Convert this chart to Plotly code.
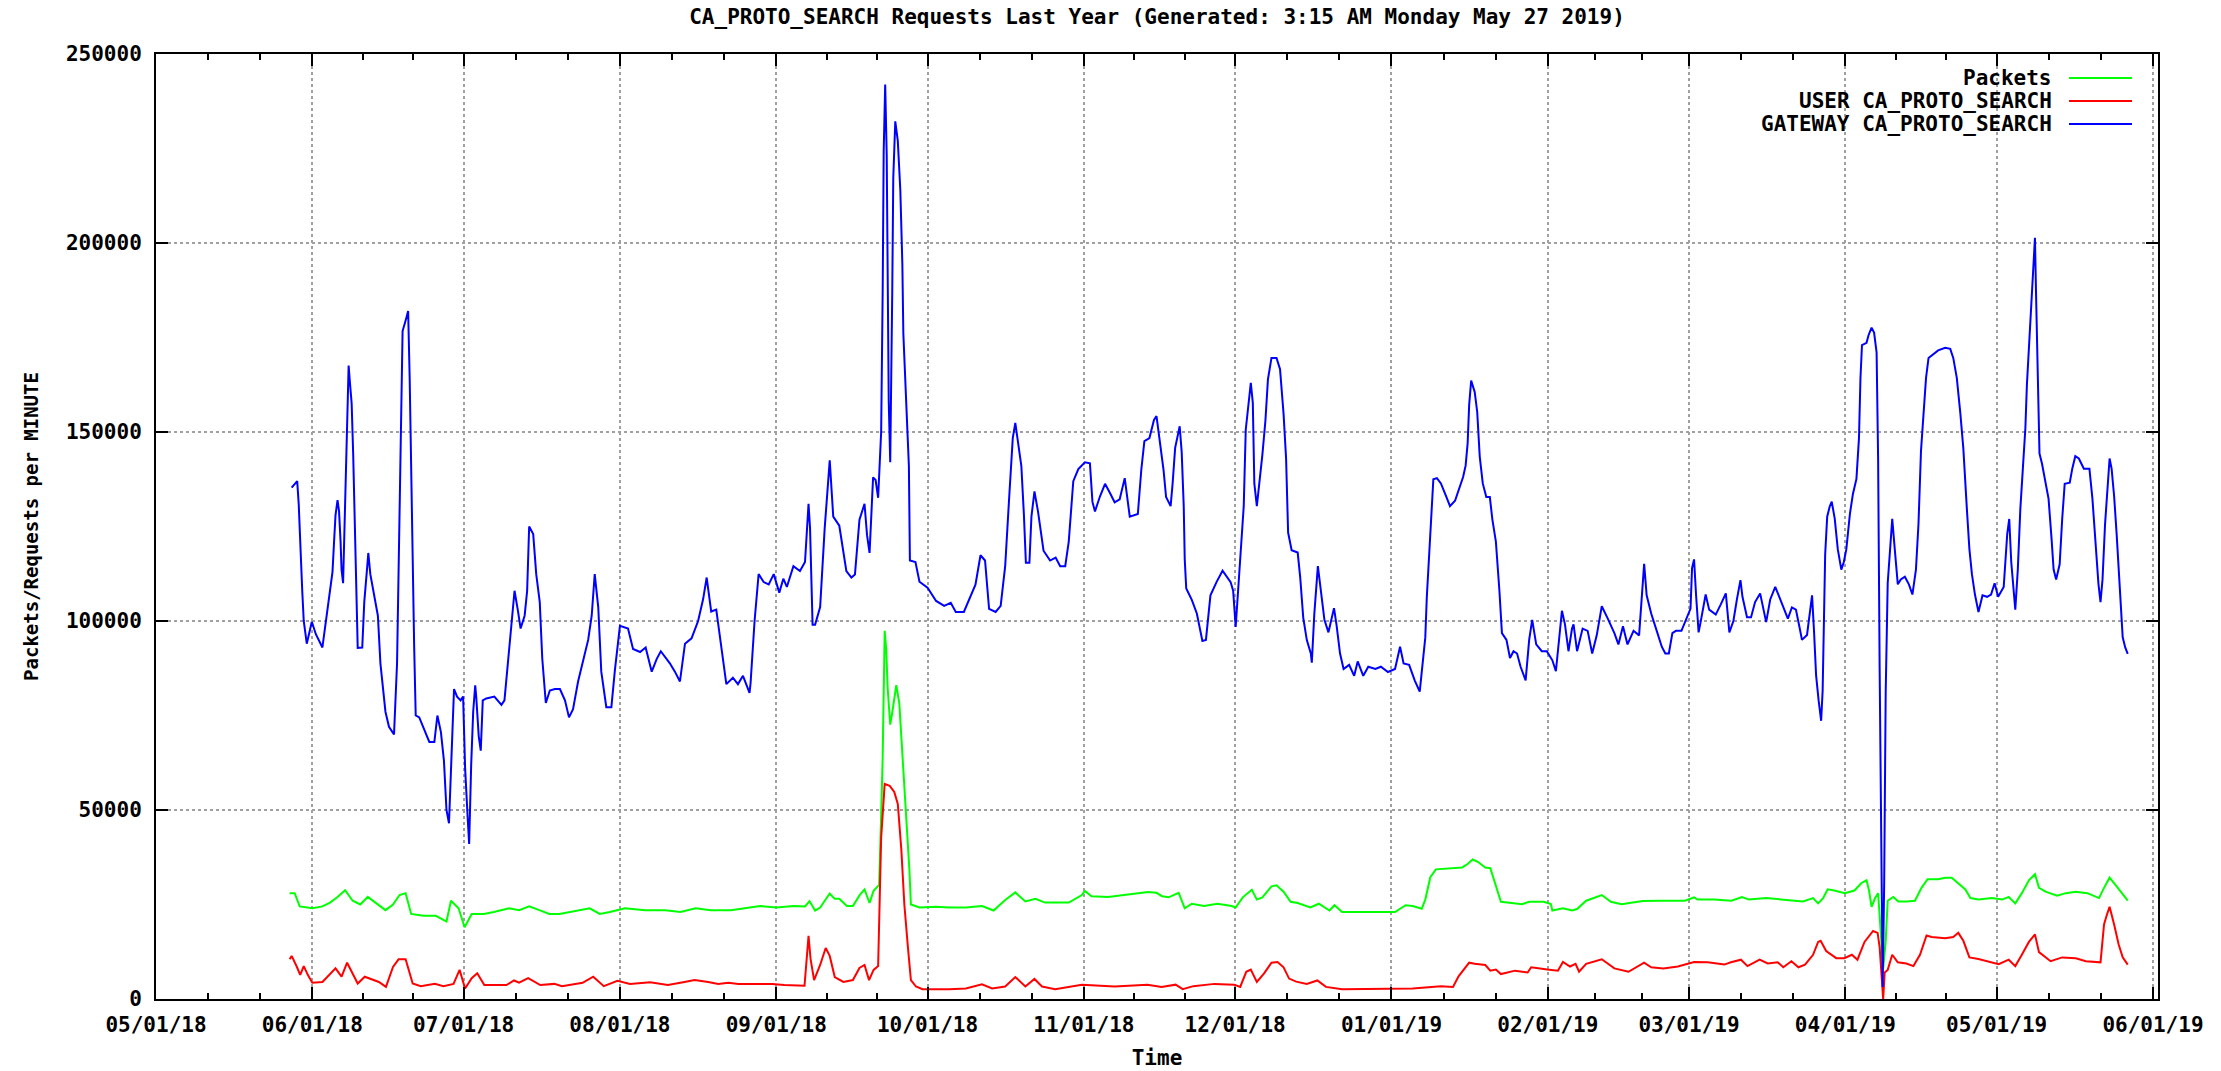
import pandas as pd
import plotly.graph_objects as go

START = pd.Timestamp("2018-05-01")

title_text = "CA_PROTO_SEARCH Requests Last Year (Generated: 3:15 AM Monday May 27 2019)"
series_names = ["Packets", "USER CA_PROTO_SEARCH", "GATEWAY CA_PROTO_SEARCH"]
series_colors = ["#00ff00", "#ff0000", "#0000ff"]
y_ticks = [0, 50000, 100000, 150000, 200000, 250000]

# ---- GATEWAY CA_PROTO_SEARCH (days since 2018-05-01, value) ----
gateway_day = [
    26.9, 28.0, 28.3, 28.6, 29.0, 29.3, 29.7, 29.9, 30.9, 31.7, 33.0, 33.5, 34.3, 35.0, 35.3, 35.6, 36.0, 36.3,
    36.6, 36.8, 37.1, 37.3, 37.6, 38.0, 38.2, 38.4, 38.8, 39.1, 39.4, 39.7, 40.0, 40.9, 41.3, 41.9, 42.1, 42.5,
    43.2, 44.0, 44.5, 45.0, 45.5, 46.2, 47.2, 47.8, 48.2, 48.6, 48.9, 49.5, 50.0, 50.3, 50.7, 51.2, 51.5, 52.2,
    54.2, 55.2, 55.8, 56.5, 57.1, 57.6, 58.1, 58.6, 59.1, 59.7, 60.4, 60.9, 61.3, 61.8, 62.1, 62.5, 62.9, 63.3,
    63.5, 64.0, 64.4, 64.8, 65.5, 67.1, 68.5, 69.1, 69.8, 70.6, 71.1, 71.8, 72.3, 73.1, 73.6, 74.0, 74.8, 75.4,
    76.1, 76.6, 77.3, 78.1, 79.1, 80.1, 81.1, 81.9, 82.7, 83.7, 84.7, 85.7, 86.4, 87.0, 87.7, 88.3, 89.3, 90.3,
    91.0, 92.0, 93.6, 94.6, 96.0, 97.1, 98.3, 99.3, 100.1, 101.9, 102.9, 103.9, 104.9, 106.2, 107.5, 108.5,
    109.2, 110.1, 111.1, 112.1, 113.1, 114.4, 115.4, 116.4, 117.7, 117.9, 118.7, 119.5, 120.5, 121.5, 122.5,
    123.6, 124.4, 125.1, 126.4, 127.7, 128.7, 129.4, 129.7, 130.2, 130.7, 131.7, 132.6, 133.6, 134.3, 135.5,
    136.9, 137.9, 138.6, 139.5, 140.5, 141.0, 141.5, 142.2, 142.7, 143.2, 143.8, 144.1, 144.3, 144.6, 144.9,
    145.3, 145.6, 146.0, 146.2, 146.6, 147.1, 147.6, 148.0, 148.2, 148.7, 149.3, 149.5, 150.6, 151.4, 153.0,
    154.7, 156.3, 157.6, 158.6, 160.2, 161.2, 162.5, 163.5, 164.4, 165.2, 166.5, 167.5, 168.4, 169.2, 169.9,
    170.4, 170.9, 171.6, 172.1, 172.5, 173.2, 173.6, 174.2, 174.9, 176.0, 177.3, 178.4, 179.3, 180.3, 181.0,
    181.9, 182.9, 184.2, 185.2, 185.7, 186.2, 187.2, 188.2, 189.2, 190.1, 191.1, 192.1, 193.1, 194.7, 195.4,
    196.0, 197.0, 197.9, 198.4, 199.1, 199.8, 200.3, 201.2, 201.6, 202.1, 203.0, 203.4, 203.8, 204.0, 204.3,
    205.4, 206.4, 207.5, 208.2, 209.1, 210.3, 211.5, 213.1, 213.6, 214.1, 214.7, 215.2, 215.7, 216.1, 216.6,
    217.1, 217.5, 217.8, 218.3, 218.9, 219.4, 220.0, 220.5, 221.2, 222.2, 222.9, 223.6, 224.1, 224.5, 225.2,
    226.4, 226.9, 227.5, 228.2, 229.0, 229.2, 229.7, 230.4, 231.0, 231.7, 232.5, 233.1, 233.6, 234.1, 234.8,
    235.5, 236.6, 237.6, 238.3, 239.4, 240.4, 241.8, 242.9, 244.3, 245.7, 246.7, 247.4, 248.5, 249.6, 250.6,
    251.2, 251.7, 252.0, 252.4, 252.7, 253.3, 254.0, 254.8, 255.9, 256.6, 257.6, 258.3, 259.2, 259.7, 260.1,
    260.4, 260.8, 261.5, 262.0, 262.5, 263.1, 263.8, 264.5, 265.0, 265.7, 266.4, 266.9, 267.8, 268.5, 269.2,
    269.9, 270.6, 271.6, 272.3, 272.9, 273.7, 274.8, 275.8, 276.9, 277.6, 278.3, 278.8, 279.4, 280.1, 280.8,
    281.1, 281.8, 282.9, 283.9, 284.8, 285.7, 286.7, 287.8, 289.2, 290.0, 290.9, 291.8, 293.0, 294.1, 294.6,
    295.1, 295.6, 296.5, 297.6, 298.6, 299.3, 300.0, 300.7, 301.4, 302.5, 303.6, 304.3, 304.6, 305.0, 305.4,
    305.9, 306.3, 306.9, 307.3, 308.0, 309.3, 310.3, 311.3, 312.0, 312.8, 313.5, 314.2, 314.6, 315.5, 316.3,
    317.1, 318.1, 318.7, 319.3, 320.1, 321.1, 321.9, 322.9, 323.6, 324.4, 325.2, 325.9, 326.4, 327.4, 328.1,
    328.4, 328.8, 329.2, 329.7, 330.0, 330.2, 330.5, 330.8, 331.0, 331.4, 331.9, 332.3, 332.9, 333.5, 334.2,
    334.7, 335.2, 335.9, 336.5, 337.2, 337.7, 338.0, 338.3, 339.2, 339.6, 340.2, 340.7, 341.2, 341.5, 341.8,
    342.2, 342.4, 342.7, 343.0, 343.4, 343.8, 344.3, 344.8, 345.4, 346.0, 346.8, 347.6, 348.3, 349.0, 349.5,
    350.0, 350.5, 351.0, 351.5, 352.5, 353.4, 354.8, 355.8, 356.4, 357.1, 357.8, 358.4, 359.1, 359.6, 360.1,
    360.7, 361.4, 362.2, 363.1, 363.9, 364.6, 365.3, 366.4, 367.1, 367.5, 367.9, 368.4, 368.7, 369.2, 369.7,
    370.2, 370.7, 371.0, 371.5, 371.8, 372.2, 372.4, 372.6, 372.8, 373.2, 373.5, 374.0, 374.7, 375.3, 375.9,
    376.3, 376.8, 377.5, 378.0, 378.5, 379.5, 380.0, 380.6, 381.3, 382.3, 383.4, 384.0, 384.6, 385.2, 385.6,
    386.0, 386.5, 387.0, 387.4, 387.8, 388.3, 388.8, 389.2, 389.6, 390.0, 390.5, 391.0,
]
gateway_val = [
    135300, 137000, 131000, 119600, 108000, 100000, 96000, 94000, 99800, 96500, 93000, 98000, 104700, 113000,
    120700, 128000, 132000, 129000, 121000, 113500, 110000, 119600, 138800, 158000, 167600, 164000, 157500,
    144300, 124000, 103600, 92900, 93000, 105000, 114600, 118000, 112400, 107000, 101400, 88800, 82700, 76000,
    72000, 70000, 88800, 123000, 158000, 176700, 179500, 182000, 164600, 129000, 93000, 75000, 74500, 68000,
    68000, 75000, 70600, 63000, 50000, 46500, 64600, 82000, 80000, 79000, 80000, 61000, 48000, 41000, 62000,
    76000, 83000, 80000, 69500, 65700, 79000, 79500, 80000, 77800, 79000, 89300, 99000, 108000, 102500, 98000,
    101400, 108000, 125000, 123000, 112400, 105000, 90000, 78300, 81600, 82000, 82000, 79000, 74500, 76700,
    84000, 89300, 95000, 101400, 112400, 103600, 86600, 77200, 77200, 87000, 98700, 98000, 92600, 91800, 93000,
    86600, 90000, 92000, 88800, 86600, 84000, 94000, 95400, 100000, 105800, 111500, 102500, 103000, 92600,
    83300, 85000, 83300, 85500, 81000, 83500, 100000, 112400, 110300, 109700, 112400, 107500, 111200, 109000,
    114500, 113200, 115600, 131000, 124500, 99000, 99000, 103700, 124500, 142500, 127600, 125200, 113200,
    111500, 112300, 126800, 131000, 122700, 118000, 138000, 137300, 132600, 150000, 187000, 224000, 241900,
    223500, 158200, 142000, 187000, 217000, 232200, 227000, 214000, 194600, 176000, 158000, 141000, 116000,
    115600, 110400, 108800, 105300, 104000, 104800, 102400, 102400, 105600, 109600, 117400, 116000, 103200,
    102400, 104000, 114600, 133000, 148400, 152400, 147600, 141000, 128300, 115400, 115400, 127600, 134300,
    129000, 118600, 116000, 116800, 114500, 114500, 121000, 137000, 140200, 142000, 141700, 131500, 129000,
    133000, 136300, 133800, 131400, 132200, 137800, 127600, 128300, 140200, 147600, 148400, 153200, 154200,
    147000, 139900, 132800, 130400, 136400, 145800, 151500, 144600, 130400, 116300, 108600, 105600, 102000,
    94700, 95000, 106800, 110300, 113300, 110300, 108000, 98400, 110300, 119200, 130400, 150600, 157100,
    163000, 157700, 136400, 130400, 137500, 144000, 153000, 163900, 169600, 169600, 166600, 154800, 142900,
    123400, 118700, 118100, 111500, 100900, 95000, 91400, 89000, 102000, 114500, 108000, 100300, 97000,
    100900, 103400, 99000, 91400, 87300, 88400, 85500, 89300, 85500, 87900, 87300, 87900, 86500, 87300, 93200,
    88800, 88400, 84300, 81300, 88400, 95600, 106200, 116300, 124000, 137500, 137800, 136400, 132800, 130400,
    131800, 134500, 138100, 141100, 147000, 157100, 163600, 160600, 155300, 143500, 136400, 132800, 132800,
    126900, 121000, 108000, 96800, 95000, 90200, 92000, 91400, 87900, 84300, 95000, 100300, 93800, 92000,
    92000, 89600, 86700, 96200, 102700, 99100, 92000, 98000, 99100, 92000, 98000, 97400, 91400, 96200, 103900,
    100900, 96800, 93800, 98600, 93800, 97400, 96200, 105700, 115100, 106800, 102000, 97400, 93200, 91400,
    91400, 96800, 97400, 97400, 100900, 103300, 114000, 116300, 106800, 97000, 99700, 103600, 107000, 103000,
    101700, 104400, 107300, 97000, 100000, 105700, 110800, 106400, 101000, 101000, 105000, 107300, 103000,
    99700, 105700, 109000, 106400, 103000, 100600, 103600, 103000, 98400, 95000, 96300, 104400, 106800, 97000,
    85600, 79000, 75000, 73600, 81600, 100300, 117600, 127600, 130300, 131600, 127000, 119000, 113600, 115600,
    119000, 128300, 133600, 137600, 148300, 164300, 173000, 173600, 175600, 177600, 176300, 171000, 143000,
    87600, 29900, 3200, 30500, 81000, 110000, 117300, 127000, 119000, 109700, 111000, 111700, 109700, 107000,
    113600, 125600, 145000, 154200, 164300, 169600, 170600, 171600, 172300, 172000, 169600, 164300, 155000,
    145600, 129600, 119000, 112400, 107000, 102400, 106800, 106400, 107000, 110000, 106400, 109000, 123000,
    127000, 115600, 107700, 103000, 113600, 129600, 140300, 151000, 162400, 174300, 183700, 191000, 197000,
    201400, 187600, 159000, 144300, 141600, 137000, 132300, 121600, 113600, 111000, 115000, 127000, 136300,
    136600, 140300, 143600, 143000, 140300, 140300, 132300, 120300, 109700, 105000, 111000, 125600, 135000,
    143000, 140300, 133000, 123000, 113600, 101700, 95700, 93000, 91300,
]

# ---- Packets ----
packets_day = [
    26.5, 27.5, 28.5, 31.0, 33.0, 34.5, 36.0, 37.5, 39.0, 40.5, 42.0, 43.5, 45.5, 47.0, 48.3, 49.5, 50.6, 53.0,
    55.5, 57.6, 58.5, 60.0, 61.2, 62.6, 65.0, 67.0, 70.0, 72.0, 74.0, 76.0, 78.0, 80.0, 84.0, 86.0, 88.0, 90.0,
    93.0, 97.0, 101.0, 104.0, 107.0, 110.0, 114.0, 117.9, 119.8, 123.1, 126.4, 128.7, 129.6, 130.7, 131.7,
    133.6, 134.6, 135.5, 137.0, 138.2, 139.5, 140.5, 141.5, 142.3, 143.4, 143.8, 144.1, 144.5, 144.8, 145.1,
    145.6, 146.0, 146.8, 147.4, 148.1, 148.7, 149.4, 149.7, 151.4, 154.7, 157.3, 160.6, 163.8, 166.1, 168.4,
    170.4, 172.4, 174.4, 176.3, 181.0, 183.6, 184.2, 185.5, 188.8, 190.1, 193.4, 196.7, 198.4, 199.5, 200.8,
    202.8, 204.0, 205.4, 207.8, 210.5, 213.3, 214.1, 215.5, 217.3, 218.3, 219.4, 221.2, 222.2, 223.6, 225.0,
    226.4, 228.9, 230.6, 232.7, 233.7, 235.2, 245.7, 247.8, 249.2, 251.0, 251.7, 252.7, 253.8, 256.2, 259.0,
    260.1, 261.1, 262.1, 263.6, 264.6, 265.7, 266.7, 268.8, 270.9, 272.3, 275.2, 276.6, 276.9, 279.0, 280.8,
    281.8, 283.6, 286.7, 288.5, 290.6, 294.8, 298.3, 303.2, 305.0, 305.7, 309.0, 312.4, 314.5, 315.9, 319.3,
    322.6, 326.6, 328.6, 329.6, 330.6, 331.5, 332.8, 334.9, 336.8, 338.2, 339.2, 339.7, 340.2, 340.9, 341.5,
    341.8, 342.2, 342.5, 343.0, 343.4, 344.5, 345.5, 347.2, 348.8, 350.1, 351.3, 353.4, 354.8, 356.1, 357.4,
    358.8, 359.8, 361.4, 364.1, 366.1, 367.4, 368.7, 370.0, 371.4, 372.6, 373.4, 374.7, 377.0, 378.7, 380.7,
    383.0, 385.3, 386.3, 387.4, 388.6, 391.0,
]
packets_val = [
    28000, 28000, 24500, 24000, 24500, 25500, 27000, 28800, 26000, 25000, 27000, 25500, 23500, 25000, 27500,
    28000, 22500, 22000, 22000, 20500, 26000, 24000, 19000, 22500, 22500, 23000, 24000, 23500, 24500, 23500,
    22500, 22500, 23500, 24000, 22500, 23000, 24000, 23500, 23500, 23000, 24000, 23500, 23500, 24200, 24600,
    24200, 24600, 24500, 25900, 23400, 24200, 27900, 26500, 26500, 24600, 24600, 27400, 29000, 25400, 28600,
    30200, 48600, 63800, 97400, 92600, 82000, 72600, 75800, 83000, 78200, 63000, 48600, 34200, 25000, 24200,
    24400, 24200, 24200, 24600, 23400, 26200, 28200, 25800, 26500, 25500, 25500, 27500, 28600, 27200, 27000,
    27200, 27600, 28300, 28100, 27200, 26900, 28100, 24000, 25200, 24600, 25200, 24600, 24200, 26900, 28900,
    26300, 26900, 29800, 30100, 28400, 25700, 25400, 24200, 25200, 23400, 24800, 23000, 23000, 24800, 24600,
    23900, 26300, 32200, 34300, 34600, 34800, 35700, 36900, 36300, 34800, 34600, 29800, 25700, 25400, 25100,
    25700, 25700, 25100, 23400, 24000, 23400, 23800, 26000, 27500, 25700, 25100, 25900, 26000, 26000, 26900,
    26300, 26300, 26000, 27000, 26300, 26700, 26300, 25800, 26700, 25300, 26700, 29000, 28700, 28000, 28700,
    30700, 31400, 28700, 24400, 26700, 28000, 22000, 15300, 8000, 15300, 26000, 27000, 25800, 25800, 26000,
    29400, 31700, 31700, 32100, 32100, 30700, 29000, 26700, 26300, 26700, 26300, 27000, 25300, 28000, 31400,
    33000, 29400, 28400, 27300, 28000, 28400, 28000, 26700, 29400, 32100, 30100, 26000,
]

# ---- USER CA_PROTO_SEARCH ----
user_day = [
    26.5, 26.9, 27.9, 28.6, 29.3, 30.1, 31.0, 33.0, 35.6, 36.8, 37.9, 40.0, 41.4, 44.2, 45.6, 47.0, 48.1, 49.5,
    50.9, 52.5, 55.3, 57.0, 59.0, 60.2, 61.3, 62.6, 63.7, 65.1, 69.5, 71.0, 72.0, 73.8, 76.2, 79.0, 80.5, 84.6,
    86.7, 88.8, 91.5, 94.0, 98.0, 101.5, 104.8, 106.8, 109.5, 111.5, 113.5, 115.5, 122.2, 124.6, 128.6, 129.0,
    129.4, 129.8, 130.5, 131.7, 132.8, 133.6, 134.6, 136.3, 138.2, 139.5, 140.5, 141.4, 142.3, 143.2, 143.8,
    144.5, 145.5, 146.4, 147.1, 147.8, 148.4, 149.1, 149.7, 150.7, 152.0, 157.3, 160.6, 163.8, 165.8, 168.4,
    170.4, 172.4, 174.2, 175.7, 178.3, 183.6, 190.1, 196.6, 199.4, 202.2, 203.6, 205.7, 209.9, 213.8, 215.0,
    216.2, 217.1, 218.3, 219.7, 221.2, 222.4, 223.6, 224.7, 226.1, 228.2, 230.3, 232.0, 235.2, 245.7, 249.2,
    254.8, 257.2, 258.3, 259.4, 260.4, 261.5, 263.6, 264.6, 265.7, 266.7, 269.5, 272.0, 272.7, 275.9, 278.0,
    279.0, 280.4, 281.5, 282.2, 283.6, 286.7, 289.2, 292.0, 295.1, 296.5, 298.9, 301.8, 305.0, 307.7, 311.0,
    312.3, 314.3, 315.6, 318.0, 319.6, 321.6, 322.7, 324.3, 325.7, 327.0, 328.6, 329.6, 330.1, 331.2, 333.2,
    334.8, 336.3, 337.4, 338.8, 340.5, 341.4, 341.8, 342.2, 342.5, 342.8, 343.4, 344.3, 345.4, 347.1, 348.5,
    349.8, 351.1, 352.1, 354.8, 356.4, 357.4, 358.4, 359.6, 361.4, 364.1, 365.4, 367.4, 368.7, 370.0, 371.4,
    372.6, 373.4, 375.7, 378.0, 380.7, 382.7, 385.6, 386.3, 386.8, 387.4, 388.3, 389.2, 390.0, 391.0,
]
user_val = [
    10500, 11400, 8600, 6400, 8700, 6400, 4300, 4500, 8100, 5900, 9600, 4100, 5900, 4500, 3200, 8500, 10500,
    10500, 4100, 3400, 4000, 3400, 4000, 7700, 2800, 5500, 6800, 3700, 3700, 4900, 4300, 5500, 3700, 4000,
    3400, 4300, 5900, 3400, 4800, 4000, 4400, 3700, 4500, 5000, 4500, 4000, 4300, 4000, 4000, 3700, 3500,
    10600, 16700, 10600, 5000, 9000, 13500, 11400, 5800, 4500, 5000, 8200, 9000, 5000, 7700, 8700, 42700,
    56900, 56400, 54800, 51600, 39500, 25000, 13800, 5000, 3300, 2600, 2600, 2800, 3900, 2800, 3300, 5800,
    3300, 5300, 3300, 2600, 3800, 3300, 3800, 3200, 3800, 2600, 3400, 4000, 3800, 3200, 7200, 7800, 4500,
    6700, 9600, 9800, 8400, 5400, 4600, 4000, 4900, 3200, 2600, 2600, 2800, 3400, 3200, 6000, 7800, 9600,
    9300, 9000, 7500, 7800, 6600, 7500, 7000, 8400, 7800, 7500, 9800, 8600, 9300, 7200, 9300, 10500, 8100,
    7200, 9600, 8400, 8100, 8600, 9800, 9700, 9100, 9700, 10400, 8700, 10400, 9400, 9700, 8400, 10000, 8400,
    9100, 11700, 15100, 15400, 12700, 10800, 10800, 11700, 10400, 15100, 18000, 17500, 13700, 7000, 0, 7000,
    7700, 11700, 9700, 9400, 8700, 11700, 16800, 16400, 16100, 16400, 17500, 15400, 11000, 10600, 9700, 9200,
    10400, 8700, 11700, 15100, 17100, 12400, 10000, 11000, 10800, 10000, 9700, 19700, 22000, 24400, 19700,
    14400, 11000, 9100,
]


def to_dates(days):
    return START + pd.to_timedelta(pd.Series(days), unit="D")


FONT = "DejaVu Sans Mono"
font_main = dict(family=FONT, size=21, color="black", weight="bold")

fig = go.Figure()
for name, color, d, v in [
    (series_names[0], series_colors[0], packets_day, packets_val),
    (series_names[1], series_colors[1], user_day, user_val),
    (series_names[2], series_colors[2], gateway_day, gateway_val),
]:
    fig.add_trace(go.Scatter(x=to_dates(d), y=v, mode="lines", name=name,
                             line=dict(color=color, width=2), showlegend=False))

# month ticks and minor ticks (thirds of each month)
months = pd.date_range("2018-05-01", "2019-06-01", freq="MS")
minor_vals = []
for a, b in zip(months[:-1], months[1:]):
    minor_vals += [a + (b - a) / 3, a + 2 * (b - a) / 3]

W, H = 2221, 1071
L, R, T, B = 156, 63, 54, 72

fig.update_layout(
    width=W, height=H,
    margin=dict(l=L, r=R, t=T, b=B, autoexpand=False),
    paper_bgcolor="white", plot_bgcolor="white",
    title=dict(text=title_text, font=font_main, x=0.5, xref="paper", xanchor="center",
               y=1 - 17 / H, yref="container", yanchor="middle"),
    showlegend=False,
)

fig.update_xaxes(
    type="date",
    range=[START, pd.Timestamp("2019-06-02")],
    tickmode="array", tickvals=list(months), tickformat="%m/%d/%y",
    ticks="inside", ticklen=12, tickwidth=2, tickcolor="black",
    showline=True, linecolor="black", linewidth=2, mirror="ticks",
    showgrid=True, gridcolor="#a0a0a0", griddash="dot", gridwidth=1.5,
    zeroline=False,
    tickfont=font_main, ticklabelstandoff=6,
    minor=dict(tickmode="array", tickvals=minor_vals, ticks="inside", ticklen=6,
               tickwidth=2, tickcolor="black", showgrid=False),
    title=dict(text="Time", font=font_main, standoff=14),
)
fig.update_yaxes(
    range=[0, 250000], tickmode="array", tickvals=y_ticks, tickformat="d",
    ticks="inside", ticklen=12, tickwidth=2, tickcolor="black",
    showline=True, linecolor="black", linewidth=2, mirror="ticks",
    showgrid=True, gridcolor="#a0a0a0", griddash="dot", gridwidth=1.5,
    zeroline=False,
    tickfont=font_main, ticklabelstandoff=8,
    title=dict(text="Packets/Requests per MINUTE",
               font=dict(family=FONT, size=19, color="black", weight="bold"), standoff=22),
)

# gnuplot-style key: right-aligned text with line sample to the right
pw, ph = W - L - R, H - T - B
key_rows_px = [78, 101, 124]
for name, color, ypx in zip(series_names, series_colors, key_rows_px):
    yp = (H - B - ypx) / ph
    fig.add_annotation(x=(2054 - L) / pw, y=yp, xref="paper", yref="paper", text=name,
                       showarrow=False, xanchor="right", yanchor="middle", font=font_main)
    fig.add_shape(type="line", xref="paper", yref="paper",
                  x0=(2069 - L) / pw, x1=(2132 - L) / pw, y0=yp, y1=yp,
                  line=dict(color=color, width=2))

# remove the default 8px page margin so the figure sits at the window origin
fig.write_html("out.html", config={"displayModeBar": False},
               post_script="document.body.style.margin='0';document.body.style.overflow='hidden';")
